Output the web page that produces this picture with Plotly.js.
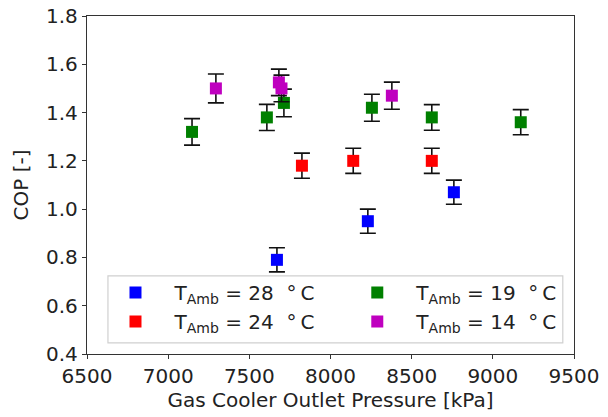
<!DOCTYPE html>
<html><head><meta charset="utf-8">
<script src="https://cdn.plot.ly/plotly-3.0.1.min.js"></script>
<style>html,body{margin:0;padding:0;background:#fff}#c{width:608px;height:417px}</style>
</head><body><div id="c"></div>
<script>
// Data
const p28 = [7670, 8230, 8760];
const cop28 = [0.79, 0.95, 1.07];
const err28 = [0.05, 0.05, 0.05];

const p24 = [7824, 8140, 8624];
const cop24 = [1.18, 1.20, 1.20];
const err24 = [0.052, 0.052, 0.052];

const p19 = [7147, 7608, 7713, 8255, 8624, 9172];
const cop19 = [1.32, 1.38, 1.44, 1.42, 1.38, 1.36];
const err19 = [0.055, 0.054, 0.057, 0.056, 0.053, 0.052];

const p14 = [7294, 7682, 7698, 8378];
const cop14 = [1.50, 1.525, 1.50, 1.47];
const err14 = [0.06, 0.055, 0.055, 0.056];

const pad = "\u00a0\u00a0\u00a0";
const labels = [pad + "T<sub>Amb</sub> = 28\u00a0\u00a0°\u2009C", pad + "T<sub>Amb</sub> = 24\u00a0\u00a0°\u2009C",
                pad + "T<sub>Amb</sub> = 19\u00a0\u00a0°\u2009C", pad + "T<sub>Amb</sub> = 14\u00a0\u00a0°\u2009C"];
const xTicks = [6500, 7000, 7500, 8000, 8500, 9000, 9500];
const yTicks = [0.4, 0.6, 0.8, 1.0, 1.2, 1.4, 1.6, 1.8];

function tr(x, y, e, color, name, lg) {
  return {
    x: x, y: y, type: 'scatter', mode: 'markers', name: name, legend: lg,
    marker: {symbol: 'square', size: 12, color: color},
    error_y: {type: 'data', array: e, visible: true, color: '#111', thickness: 1.6, width: 8}
  };
}
const data = [
  tr(p28, cop28, err28, '#0000ff', labels[0], 'legend'),
  tr(p24, cop24, err24, '#ff0000', labels[1], 'legend'),
  tr(p19, cop19, err19, '#008000', labels[2], 'legend2'),
  tr(p14, cop14, err14, '#bf00bf', labels[3], 'legend2')
];
const font = {family: 'DejaVu Sans', size: 20, color: '#222'};
const axBase = {
  showgrid: false, zeroline: false, showline: true, mirror: true,
  linecolor: '#333', linewidth: 1.2, ticks: 'outside', ticklen: 4, tickcolor: '#333'
};
const legBase = {
  orientation: 'v', xanchor: 'left', yanchor: 'top',
  bgcolor: 'rgba(0,0,0,0)', borderwidth: 0, font: font, traceorder: 'normal'
};
const layout = {
  width: 608, height: 417,
  margin: {l: 87, r: 34, t: 16, b: 63},
  paper_bgcolor: '#fff', plot_bgcolor: '#fff',
  font: font,
  showlegend: true,
  xaxis: Object.assign({}, axBase, {
    range: [6500, 9500], tickvals: xTicks, ticktext: xTicks.map(String),
    title: {text: 'Gas Cooler Outlet Pressure [kPa]', font: font, standoff: 5}
  }),
  yaxis: Object.assign({}, axBase, {
    range: [0.4, 1.8], tickvals: yTicks, ticktext: yTicks.map(v => v.toFixed(1)),
    title: {text: 'COP [-]', font: font, standoff: 12}
  }),
  legend: Object.assign({}, legBase, {x: 0.0585, y: 0.24}),
  legend2: Object.assign({}, legBase, {x: 0.555, y: 0.24}),
  shapes: [{
    type: 'rect', xref: 'paper', yref: 'paper',
    x0: 0.043, x1: 0.977, y0: 0.033, y1: 0.231,
    fillcolor: '#fff', line: {color: '#d0d0d0', width: 1.2}, layer: 'above'
  }]
};
Plotly.newPlot('c', data, layout, {displayModeBar: false, staticPlot: true});
</script></body></html>
